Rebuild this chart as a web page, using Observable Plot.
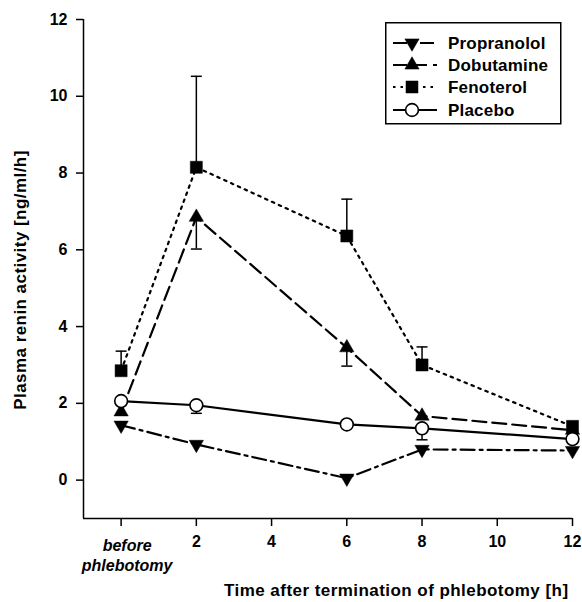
<!DOCTYPE html>
<html><head><meta charset="utf-8">
<script src="https://cdn.jsdelivr.net/npm/d3@7"></script>
<script src="https://cdn.jsdelivr.net/npm/@observablehq/plot@0.6"></script>
<style>
body{margin:0;background:#fff;}
#wrap{position:relative;width:582px;height:602px;}
#legend{position:absolute;left:385px;top:22px;}
.biglabel{font-size:17px;letter-spacing:0.45px;}
</style></head><body><div id="wrap"></div>
<script>
// ---- data ----
const times = [0, 2, 6, 8, 12];
const seriesNames = ["Propranolol", "Dobutamine", "Fenoterol", "Placebo"];
const propranolol = [1.43, 0.93, 0.05, 0.80, 0.77];
const dobutamine  = [1.78, 6.85, 3.45, 1.67, 1.30];
const fenoterol   = [2.85, 8.15, 6.36, 3.00, 1.40];
const placebo     = [2.06, 1.95, 1.45, 1.35, 1.07];
// error bar end values (null = not drawn)
const propranololErr = [null, null, null, null, null];
const dobutamineErr  = [1.97, 6.02, 2.97, null, null];
const fenoterolErr   = [3.36, 10.52, 7.32, 3.47, null];
const placeboErr     = [null, 1.74, null, 1.05, null];
const xTicks = [0, 2, 4, 6, 8, 10, 12];
const yTicks = [0, 2, 4, 6, 8, 10, 12];
const baselineLabel = "before\nphlebotomy";
const xLabel = "Time after termination of phlebotomy [h]";
const yLabel = "Plasma renin activity [ng/ml/h]";

// ---- styles ----
const FONT = "'Liberation Sans', Arial, sans-serif";
const values = [propranolol, dobutamine, fenoterol, placebo];
const errs = [propranololErr, dobutamineErr, fenoterolErr, placeboErr];
const styles = [
  {dash: "14,5,3,5", symbol: d3.symbolTriangle, rotate: 180, fill: "black", r: 5.3},
  {dash: "14,6", symbol: d3.symbolTriangle, rotate: 0, fill: "black", r: 5.3},
  {dash: "2.5,5", symbol: d3.symbolSquare, rotate: 0, fill: "black", r: 6.8},
  {dash: null, symbol: d3.symbolCircle, rotate: 0, fill: "white", r: 6.4}
];
const capSymbol = {draw(ctx, size) { const r = Math.sqrt(size / Math.PI); ctx.moveTo(-r, 0); ctx.lineTo(r, 0); }};

const rows = seriesNames.map((name, i) => times.map((t, j) => ({series: name, time: t, value: values[i][j], err: errs[i][j]})));

const marks = [
  Plot.ruleX([-1], {stroke: "black", strokeWidth: 1.5}),
  Plot.ruleY([-1], {stroke: "black", strokeWidth: 1.5}),
  Plot.axisY({ticks: yTicks, tickSize: 7, tickPadding: 9, label: null, strokeWidth: 1.5}),
  Plot.axisX({ticks: xTicks, tickSize: 8, tickPadding: 9, label: null, strokeWidth: 1.5, tickFormat: d => d === 0 ? "" : String(d)}),
  Plot.text([0], {x: d => d, frameAnchor: "bottom", dy: 18, dx: 6, lineAnchor: "top", text: () => baselineLabel, fontStyle: "italic", lineHeight: 1.25}),
  Plot.text([xLabel], {frameAnchor: "bottom-right", text: d => d, textAnchor: "end", lineAnchor: "bottom", dy: 77, dx: -4, className: "biglabel"}),
  Plot.text([yLabel], {frameAnchor: "left", text: d => d, rotate: -90, textAnchor: "middle", lineAnchor: "middle", dx: -63, dy: 11, className: "biglabel"})
];
rows.forEach((r, i) => {
  const s = styles[i];
  marks.push(Plot.line(r, {x: "time", y: "value", stroke: "black", strokeWidth: 2.2, strokeDasharray: s.dash}));
});
rows.forEach((r, i) => {
  const e = r.filter(d => d.err != null);
  marks.push(Plot.ruleX(e, {x: "time", y1: "value", y2: "err", stroke: "black", strokeWidth: 1.5}));
  marks.push(Plot.dot(e, {x: "time", y: "err", symbol: capSymbol, r: 5.5, stroke: "black", strokeWidth: 1.5, fill: "none"}));
});
rows.forEach((r, i) => {
  const s = styles[i];
  marks.push(Plot.dot(r, {x: "time", y: "value", symbol: s.symbol, r: s.r, fill: s.fill, stroke: "black", strokeWidth: s.fill === "white" ? 1.6 : 0.5, rotate: s.rotate}));
});

const chart = Plot.plot({
  width: 582, height: 602,
  marginLeft: 83, marginRight: 10, marginTop: 19, marginBottom: 84,
  x: {domain: [-1, 12]},
  y: {domain: [-1, 12]},
  style: {fontFamily: FONT, fontSize: "16px", fontWeight: "bold", color: "black", background: "white"},
  marks
});
document.getElementById("wrap").appendChild(chart);

// ---- legend ----
const L = d3.select("#wrap").append("svg").attr("id", "legend").attr("width", 177).attr("height", 103);
L.append("rect").attr("x", 0.75).attr("y", 0.75).attr("width", 175).attr("height", 101).attr("fill", "white").attr("stroke", "black").attr("stroke-width", 1.5);
const rowY = [21, 43, 65, 88];
seriesNames.forEach((name, i) => {
  const s = styles[i];
  const g = L.append("g").attr("transform", `translate(0,${rowY[i]})`);
  g.append("line").attr("x1", 8).attr("x2", 52).attr("y1", 0).attr("y2", 0).attr("stroke", "black").attr("stroke-width", 2).attr("stroke-dasharray", s.dash);
  g.append("path").attr("d", d3.symbol(s.symbol, Math.PI * s.r * s.r)()).attr("transform", `translate(27,0) rotate(${s.rotate})`)
    .attr("fill", s.fill).attr("stroke", "black").attr("stroke-width", s.fill === "white" ? 1.6 : 0.5);
  g.append("text").attr("x", 63).attr("y", 0).attr("dy", "0.36em").text(name)
    .attr("font-family", FONT).attr("font-weight", "bold").attr("font-size", 17).attr("letter-spacing", 0.2);
});
</script></body></html>
